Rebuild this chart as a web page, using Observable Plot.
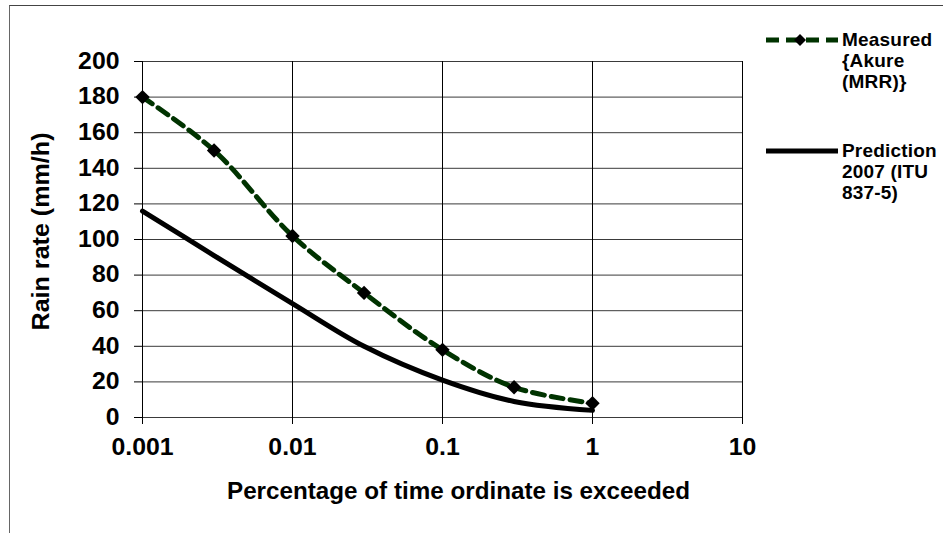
<!DOCTYPE html>
<html>
<head>
<meta charset="utf-8">
<script src="https://cdn.jsdelivr.net/npm/d3@7"></script>
<script src="https://cdn.jsdelivr.net/npm/@observablehq/plot@0.6"></script>
<style>
  body { margin: 0; background: #fff; font-family: "Liberation Sans", Arial, sans-serif; }
  #wrap { position: relative; width: 943px; height: 533px; overflow: hidden; background: #fff; }
  #border { position: absolute; left: 9px; top: 5px; width: 1000px; height: 600px;
            border-left: 1.5px solid #666; border-top: 1.5px solid #444; pointer-events: none; }
  #chart { position: absolute; left: 0; top: 0; }
  .leg { position: absolute; left: 765px; }
  .leg svg { position: absolute; left: 0; }
  .leg .lbl { position: absolute; left: 77px; font-weight: bold; font-size: 19px; line-height: 21px;
              color: #000; white-space: nowrap; letter-spacing: 0.2px; }
</style>
</head>
<body>
<div id="wrap">
  <div id="chart"></div>
  <div id="border"></div>
  <div class="leg" style="top:29px">
    <svg width="74" height="20" style="top:1px">
      <line x1="1" y1="10" x2="73" y2="10" stroke="#003300" stroke-width="5" stroke-dasharray="13,7"></line>
      <path d="M35,4 L41,10 L35,16 L29,10 Z" fill="#000"></path>
    </svg>
    <div class="lbl" id="leg1" style="top:0px"></div>
  </div>
  <div class="leg" style="top:140px">
    <svg width="74" height="20" style="top:1px">
      <line x1="1" y1="10" x2="73" y2="10" stroke="#000" stroke-width="5"></line>
    </svg>
    <div class="lbl" id="leg2" style="top:0px"></div>
  </div>
</div>
<script>
// ---- data ----
const pct = [0.001, 0.003, 0.01, 0.03, 0.1, 0.3, 1];
const measured = [180, 150, 102, 70, 38, 17, 8];
const predicted = [116, 91, 64, 40, 21, 9, 4];
const seriesNames = ["Measured {Akure (MRR)}", "Prediction 2007 (ITU 837-5)"];
const legendLines = [["Measured", "{Akure", "(MRR)}"], ["Prediction", "2007 (ITU", "837-5)"]];
const xTicks = [0.001, 0.01, 0.1, 1, 10];
const yTicks = [0, 20, 40, 60, 80, 100, 120, 140, 160, 180, 200];
const xTitle = "Percentage of time ordinate is exceeded";
const yTitle = "Rain rate (mm/h)";

const measRows = pct.map((p, i) => ({p, v: measured[i], s: seriesNames[0]}));
const predRows = pct.map((p, i) => ({p, v: predicted[i], s: seriesNames[1]}));

const font = "'Liberation Sans', Arial, sans-serif";
const chart = Plot.plot({
  width: 943,
  height: 533,
  marginLeft: 142,
  marginRight: 201,
  marginTop: 61,
  marginBottom: 116,
  style: {fontFamily: font, fontWeight: "bold", fontSize: "22px", color: "#000", background: "transparent"},
  x: {type: "log", domain: [0.001, 10]},
  y: {domain: [0, 200]},
  marks: [
    Plot.gridY(yTicks, {stroke: "#3a3a3a", strokeOpacity: 1, strokeWidth: 1}),
    Plot.gridX(xTicks, {stroke: "#000", strokeOpacity: 1, strokeWidth: 1}),
    Plot.axisY(yTicks, {tickSize: 8, tickPadding: 15, label: null, stroke: "#000", fontSize: 23, fontWeight: "bold", fontFamily: font, fill: "#000"}),
    Plot.axisX(xTicks, {tickSize: 7, tickPadding: 14, label: null, tickFormat: d => String(d), stroke: "#000", fontSize: 23, fontWeight: "bold", fontFamily: font, fill: "#000"}),
    Plot.line(predRows, {x: "p", y: "v", stroke: "#000", strokeWidth: 5, curve: "catmull-rom"}),
    Plot.line(measRows, {x: "p", y: "v", stroke: "#003300", strokeWidth: 5, strokeDasharray: "12,7", curve: "catmull-rom"}),
    Plot.dot(measRows, {x: "p", y: "v", symbol: "diamond2", r: 6.5, fill: "#000", stroke: "none"}),
    Plot.text([xTitle], {frameAnchor: "bottom", textAnchor: "middle", lineAnchor: "middle", dx: 16, dy: 74, text: d => d, fontSize: 24, fontWeight: "bold", fill: "#000"}),
    Plot.text([yTitle], {frameAnchor: "left", textAnchor: "middle", lineAnchor: "middle", rotate: -90, dx: -101, dy: -8, text: d => d, fontSize: 24, fontWeight: "bold", fill: "#000"})
  ]
});
document.getElementById("chart").appendChild(chart);

// legend text
document.getElementById("leg1").innerHTML = legendLines[0].join("<br>");
document.getElementById("leg2").innerHTML = legendLines[1].join("<br>");

// widen glyphs slightly to match the reference's stretched text
const svg = d3.select(chart);
svg.selectAll('g[aria-label="y-axis tick label"] text, g[aria-label="x-axis tick label"] text').each(function() {
  const w = this.getComputedTextLength();
  this.setAttribute("textLength", (w * 1.08).toFixed(1));
  this.setAttribute("lengthAdjust", "spacingAndGlyphs");
});
svg.selectAll("text").each(function() {
  if (this.textContent === xTitle) { this.setAttribute("textLength", 463); this.setAttribute("lengthAdjust", "spacingAndGlyphs"); }
  if (this.textContent === yTitle) { this.setAttribute("textLength", 198); this.setAttribute("lengthAdjust", "spacingAndGlyphs"); }
});
</script>
</body>
</html>
